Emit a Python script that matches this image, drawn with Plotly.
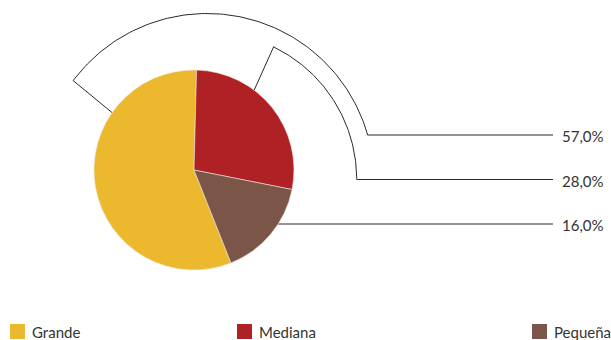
import numpy as np
import plotly.graph_objects as go

# --- data -------------------------------------------------------------
categories = ["Grande", "Mediana", "Pequeña"]
shares = [57.0, 28.0, 16.0]
colors = ["#ECB82E", "#B02126", "#7A5548"]

# --- layout constants (pixels, origin top-left) -------------------------
W, H = 611, 340
PIE_CX, PIE_CY, PIE_R = 194, 170, 100
ROTATION = 158.3            # start angle of first slice, clockwise from 12 o'clock
LINE_END_X = 553            # where leader lines stop
LABEL_X = 560
LINE_COLOR = "#2a2a2a"
TEXT_COLOR = "#333333"
FONT = "Lato"

# leader geometry: (anchor angle on pie edge [deg cw from north],
#                   elbow point, arc centre, arc radius, label row y)
leaders = [
    dict(anchor=305.0, elbow=(73.3, 80.7), centre=(207.0, 180.5), radius=167.0, row=135.0),
    dict(anchor=37.0, elbow=(273.7, 46.7), centre=(209.7, 179.3), radius=147.0, row=179.5),
    dict(anchor=122.7, elbow=None, centre=None, radius=None, row=224.0),
]


def edge_point(angle_deg):
    a = np.radians(angle_deg)
    return PIE_CX + PIE_R * np.sin(a), PIE_CY - PIE_R * np.cos(a)


def arc_points(centre, radius, p_start, y_end, n=120):
    cx, cy = centre
    a0 = np.arctan2(cy - p_start[1], p_start[0] - cx)
    dy = cy - y_end
    a1 = np.arcsin(np.clip(dy / radius, -1, 1))
    t = np.linspace(a0, a1, n)
    return cx + radius * np.cos(t), cy - radius * np.sin(t)


fig = go.Figure()

# leader lines
for ld in leaders:
    x0, y0 = edge_point(ld["anchor"])
    xs, ys = [x0], [y0]
    if ld["elbow"] is not None:
        xs.append(ld["elbow"][0])
        ys.append(ld["elbow"][1])
        ax, ay = arc_points(ld["centre"], ld["radius"], ld["elbow"], ld["row"])
        xs += list(ax)
        ys += list(ay)
    else:
        ys[0] = ld["row"]
        xs[0] = PIE_CX + np.sqrt(PIE_R**2 - (ld["row"] - PIE_CY) ** 2)
    xs.append(LINE_END_X)
    ys.append(ld["row"])
    fig.add_trace(go.Scatter(x=xs, y=ys, mode="lines",
                             line=dict(color=LINE_COLOR, width=1),
                             hoverinfo="skip", showlegend=False))

# pie
fig.add_trace(go.Pie(
    labels=categories, values=shares, sort=False,
    direction="clockwise", rotation=ROTATION,
    marker=dict(colors=colors, line=dict(color="#f3e6dc", width=0.6)),
    textinfo="none", showlegend=False,
    domain=dict(x=[(PIE_CX - PIE_R) / W, (PIE_CX + PIE_R) / W],
                y=[(H - PIE_CY - PIE_R) / H, (H - PIE_CY + PIE_R) / H]),
))

annotations = []
shapes = []

# percentage labels
for ld, v in zip(leaders, shares):
    annotations.append(dict(
        x=LABEL_X, y=ld["row"] + 1, xref="x", yref="y",
        text=f"{v:.1f}".replace(".", ",") + "%",
        showarrow=False, xanchor="left", yanchor="middle",
        font=dict(family=FONT, size=15, color=TEXT_COLOR)))

# legend
legend_x = [10, 237, 532]
for cat, col, lx in zip(categories, colors, legend_x):
    shapes.append(dict(type="rect", xref="x", yref="y",
                       x0=lx, x1=lx + 15, y0=324, y1=339,
                       fillcolor=col, line=dict(width=0)))
    annotations.append(dict(
        x=lx + 20, y=332, xref="x", yref="y", text=cat,
        showarrow=False, xanchor="left", yanchor="middle",
        font=dict(family=FONT, size=15, color=TEXT_COLOR)))

fig.update_layout(
    width=W, height=H,
    margin=dict(l=0, r=0, t=0, b=0),
    paper_bgcolor="white", plot_bgcolor="white",
    xaxis=dict(range=[0, W], visible=False, fixedrange=True),
    yaxis=dict(range=[H, 0], visible=False, fixedrange=True),
    shapes=shapes, annotations=annotations,
    showlegend=False,
)

fig.write_html("out.html")
